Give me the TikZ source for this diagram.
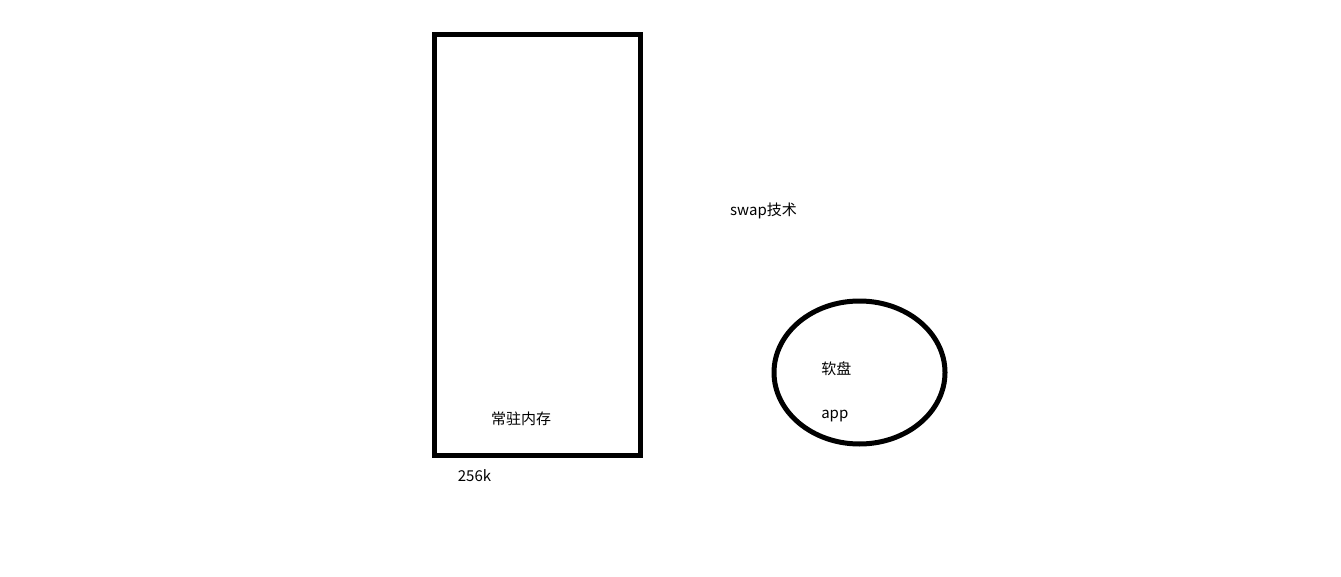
\documentclass[tikz,border=0pt]{standalone}
\usepackage{fontspec}
\setmainfont{Noto Sans CJK SC}
\usepackage{tikz}
\usetikzlibrary{positioning,shapes.geometric}

\begin{document}
\begin{tikzpicture}[
    x=0.75pt, y=-0.75pt,
    membox/.style={draw,line width=3.75pt,minimum width=154.5pt,minimum height=315.75pt,
                   inner sep=0pt},
    disk/.style={draw,ellipse,line width=3.75pt,minimum width=128.25pt,minimum height=107.25pt,
                 inner sep=0pt},
    lbl/.style={inner sep=0pt,font=\fontsize{11.25pt}{13pt}\selectfont},
  ]
  \useasboundingbox (0,0) rectangle (1341,577);

  % --- resident memory (256k) ---
  \node[membox] (mem) at (537.25,245) {};
  \node[lbl,anchor=base] (resident) at (521,424) {常驻内存};
  \node[lbl,anchor=base] (size) at (474.5,481) {256k};

  % --- swap ---
  \node[lbl,anchor=base] (swap) at (763.5,216) {swap技术};

  % --- floppy disk holding the app ---
  \node[disk] (floppy) at (859.5,372.5) {};
  \node[lbl,anchor=base west] (fd) at (821,374) {软盘};
  \node[lbl,anchor=base west] (app) at (821,418) {app};

\end{tikzpicture}
\end{document}
